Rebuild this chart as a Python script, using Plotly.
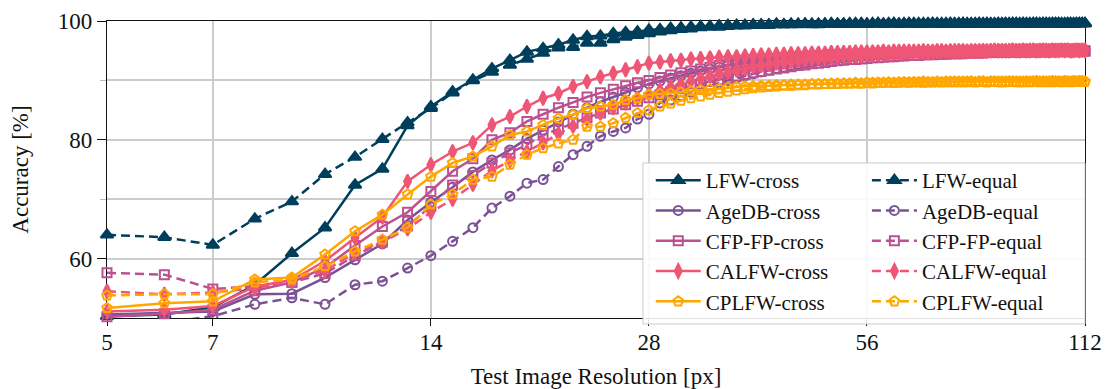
import plotly.graph_objects as go

RES = [5, 6, 7, 8, 9, 10, 11, 12, 13, 14, 15, 16, 17, 18, 19, 20, 21, 22, 23, 24, 25, 26, 27, 28,
       29, 30, 31, 32, 33, 34, 35, 36, 37, 38, 39, 40,
       41, 42, 43, 44, 45, 46, 47, 48, 49, 50, 51, 52, 53, 54, 55, 56, 57, 58, 59, 60,
       61, 62, 63, 64, 65, 66, 67, 68, 69, 70, 71, 72, 73, 74, 75, 76, 77, 78, 79, 80,
       81, 82, 83, 84, 85, 86, 87, 88, 89, 90, 91, 92, 93, 94, 95, 96, 97, 98, 99, 100,
       101, 102, 103, 104, 105, 106, 107, 108, 109, 110, 111, 112]

LFW_CROSS = [50.3, 50.6, 51.8, 55.6, 60.9, 65.2, 72.4, 75.1, 82.4, 85.6, 88.1, 90.1, 92.0, 93.4, 94.8, 95.4, 96.0, 96.8, 97.4, 97.5, 97.9, 98.1, 98.2, 98.5,
             98.6, 98.8, 98.9, 99.0, 99.1, 99.1, 99.2, 99.3, 99.3, 99.3, 99.4, 99.4,
             99.4, 99.5, 99.4, 99.5, 99.5, 99.5, 99.4, 99.5, 99.5, 99.6,
             99.5, 99.5, 99.6, 99.5, 99.6, 99.5, 99.6, 99.6, 99.5, 99.6,
             99.6, 99.5, 99.6, 99.6, 99.6, 99.5, 99.6, 99.6, 99.6, 99.6,
             99.5, 99.6, 99.6, 99.6, 99.6, 99.6, 99.5, 99.6, 99.6, 99.6,
             99.6, 99.6, 99.6, 99.5, 99.6, 99.6, 99.6, 99.6, 99.6, 99.6,
             99.6, 99.6, 99.5, 99.6, 99.6, 99.6, 99.6, 99.6, 99.6, 99.6,
             99.6, 99.6, 99.6, 99.6, 99.5, 99.6, 99.6, 99.6, 99.6, 99.6,
             99.6, 99.6]
LFW_EQUAL = [64.0, 63.6, 62.3, 66.7, 69.6, 74.2, 77.1, 80.1, 82.9, 85.3, 87.9, 90.0, 91.4, 92.6, 93.6, 94.6, 95.5, 95.6, 96.3, 96.3, 96.9, 97.3, 97.6, 97.9,
             98.2, 98.4, 98.6, 98.7, 98.9, 99.0, 99.0, 99.1, 99.2, 99.2, 99.3, 99.3,
             99.3, 99.4, 99.4, 99.4, 99.4, 99.5, 99.5, 99.4, 99.5, 99.5,
             99.5, 99.5, 99.5, 99.6, 99.5, 99.5, 99.5, 99.6, 99.5, 99.5,
             99.6, 99.5, 99.5, 99.6, 99.5, 99.6, 99.5, 99.5, 99.6, 99.5,
             99.6, 99.5, 99.6, 99.5, 99.5, 99.6, 99.6, 99.5, 99.5, 99.6,
             99.5, 99.6, 99.5, 99.6, 99.6, 99.5, 99.6, 99.5, 99.6, 99.6,
             99.5, 99.6, 99.6, 99.5, 99.6, 99.6, 99.5, 99.6, 99.6, 99.5,
             99.6, 99.6, 99.6, 99.5, 99.6, 99.6, 99.6, 99.5, 99.6, 99.6,
             99.6, 99.6]
AGEDB_CROSS = [50.6, 50.9, 51.1, 54.0, 54.1, 56.8, 59.8, 62.5, 66.5, 69.5, 72.0, 74.6, 76.6, 78.3, 80.2, 81.6, 83.0, 84.3, 85.4, 86.4, 87.2, 88.0, 88.8, 89.4,
               89.9, 90.4, 90.8, 91.2, 91.6, 91.9, 92.2, 92.5, 92.7, 92.9, 93.1, 93.3,
               93.5, 93.6, 93.7, 93.8, 93.9, 94.0, 94.1, 94.1, 94.2, 94.3,
               94.3, 94.4, 94.4, 94.5, 94.5, 94.5, 94.6, 94.6, 94.6, 94.7,
               94.7, 94.7, 94.7, 94.8, 94.8, 94.8, 94.8, 94.8, 94.9, 94.8,
               94.9, 94.9, 94.9, 94.9, 95.0, 94.9, 94.9, 95.0, 95.0, 94.9,
               95.0, 95.0, 95.0, 95.0, 95.0, 95.1, 95.0, 95.0, 95.1, 95.0,
               95.1, 95.0, 95.1, 95.1, 95.0, 95.1, 95.1, 95.1, 95.0, 95.1,
               95.1, 95.1, 95.1, 95.1, 95.1, 95.0, 95.1, 95.1, 95.1, 95.1,
               95.1, 95.1]
AGEDB_EQUAL = [48.5, 49.2, 50.3, 52.3, 53.4, 52.3, 55.6, 56.2, 58.4, 60.5, 62.9, 65.2, 68.5, 70.5, 72.7, 73.3, 75.5, 77.5, 78.9, 80.6, 81.4, 82.0, 83.5, 84.3,
               86.2, 86.7, 87.4, 88.0, 88.6, 89.1, 89.6, 90.0, 90.4, 90.8, 91.1, 91.4,
               91.7, 92.0, 92.2, 92.5, 92.7, 92.9, 93.1, 93.3, 93.4, 93.6,
               93.7, 93.8, 93.9, 94.0, 94.1, 94.1, 94.2, 94.3, 94.3, 94.4,
               94.4, 94.5, 94.5, 94.5, 94.6, 94.6, 94.6, 94.7, 94.7, 94.7,
               94.7, 94.8, 94.8, 94.8, 94.8, 94.8, 94.9, 94.8, 94.9, 94.9,
               94.9, 94.9, 94.9, 94.9, 95.0, 94.9, 94.9, 95.0, 94.9, 95.0,
               95.0, 94.9, 95.0, 95.0, 95.0, 94.9, 95.0, 95.0, 95.0, 95.0,
               95.0, 95.0, 94.9, 95.0, 95.0, 95.0, 95.0, 95.0, 95.0, 95.1,
               95.0, 95.0]
CFPFP_CROSS = [50.2, 50.7, 51.4, 54.6, 56.0, 58.5, 62.2, 65.4, 67.8, 71.3, 74.7, 76.8, 80.0, 81.2, 83.1, 84.3, 85.4, 86.3, 87.2, 87.9, 88.5, 89.1, 89.6, 90.0,
               90.5, 90.9, 91.3, 91.6, 91.9, 92.2, 92.5, 92.7, 92.9, 93.1, 93.3, 93.5,
               93.6, 93.7, 93.8, 93.9, 94.0, 94.0, 94.1, 94.2, 94.2, 94.3,
               94.3, 94.4, 94.4, 94.4, 94.5, 94.5, 94.5, 94.6, 94.6, 94.6,
               94.6, 94.7, 94.7, 94.7, 94.7, 94.7, 94.8, 94.7, 94.8, 94.8,
               94.8, 94.8, 94.8, 94.9, 94.8, 94.9, 94.8, 94.9, 94.9, 94.9,
               94.9, 94.9, 94.9, 94.9, 94.9, 95.0, 94.9, 94.9, 95.0, 94.9,
               95.0, 94.9, 95.0, 95.0, 94.9, 95.0, 95.0, 95.0, 94.9, 95.0,
               95.0, 95.0, 95.0, 95.0, 95.0, 94.9, 95.0, 95.0, 95.0, 95.0,
               95.0, 95.0]
CFPFP_EQUAL = [57.6, 57.3, 54.9, 55.3, 56.0, 57.5, 60.5, 62.8, 65.5, 68.8, 72.4, 74.0, 76.1, 77.8, 79.2, 80.8, 81.8, 82.8, 83.7, 84.5, 85.2, 85.9, 86.5, 87.1,
               87.6, 88.1, 88.6, 89.0, 89.4, 89.8, 90.1, 90.4, 90.7, 91.0, 91.3, 91.5,
               91.7, 91.9, 92.1, 92.3, 92.5, 92.6, 92.8, 92.9, 93.0, 93.2,
               93.3, 93.4, 93.5, 93.5, 93.6, 93.7, 93.8, 93.8, 93.9, 94.0,
               94.0, 94.1, 94.1, 94.2, 94.2, 94.2, 94.3, 94.3, 94.3, 94.4,
               94.4, 94.4, 94.5, 94.5, 94.5, 94.5, 94.6, 94.6, 94.6, 94.6,
               94.6, 94.7, 94.7, 94.7, 94.7, 94.7, 94.8, 94.7, 94.8, 94.8,
               94.8, 94.8, 94.8, 94.8, 94.9, 94.8, 94.8, 94.9, 94.9, 94.8,
               94.9, 94.9, 94.9, 94.9, 94.9, 94.9, 94.9, 95.0, 94.9, 94.9,
               95.0, 94.9]
CALFW_CROSS = [51.1, 51.4, 52.0, 55.3, 56.4, 59.6, 63.5, 67.0, 73.0, 75.8, 78.0, 79.5, 82.5, 83.9, 85.6, 87.0, 87.8, 89.0, 89.8, 90.6, 91.2, 91.8, 92.3, 92.9,
               93.1, 93.3, 93.4, 93.6, 93.7, 93.8, 93.9, 94.0, 94.0, 94.1, 94.2, 94.3,
               94.3, 94.4, 94.4, 94.5, 94.5, 94.5, 94.6, 94.6, 94.6, 94.7,
               94.7, 94.7, 94.7, 94.8, 94.8, 94.8, 94.8, 94.8, 94.9, 94.8,
               94.9, 94.9, 94.9, 94.9, 94.9, 94.9, 95.0, 94.9, 94.9, 95.0,
               95.0, 94.9, 95.0, 95.0, 95.0, 95.0, 94.9, 95.0, 95.0, 95.0,
               95.0, 95.0, 95.0, 95.1, 95.0, 95.0, 95.0, 95.0, 95.1, 95.0,
               95.0, 95.1, 95.0, 95.0, 95.1, 95.0, 95.0, 95.1, 95.0, 95.0,
               95.1, 95.0, 95.0, 95.1, 95.0, 95.1, 95.0, 95.0, 95.1, 95.0,
               95.1, 95.0]
CALFW_EQUAL = [54.5, 54.0, 54.3, 55.0, 56.2, 58.0, 61.0, 62.8, 65.0, 67.8, 70.0, 72.5, 74.8, 76.5, 78.0, 79.5, 81.0, 82.3, 83.5, 84.5, 85.4, 86.2, 87.0, 87.7,
               88.3, 88.9, 89.4, 89.9, 90.3, 90.7, 91.1, 91.4, 91.7, 92.0, 92.3, 92.5,
               92.7, 92.9, 93.1, 93.2, 93.4, 93.5, 93.6, 93.7, 93.8, 93.9,
               94.0, 94.0, 94.1, 94.2, 94.2, 94.3, 94.3, 94.4, 94.4, 94.5,
               94.5, 94.5, 94.6, 94.6, 94.6, 94.7, 94.7, 94.7, 94.7, 94.8,
               94.8, 94.8, 94.8, 94.8, 94.9, 94.9, 94.9, 94.9, 94.9, 94.9,
               95.0, 94.9, 95.0, 95.0, 95.0, 95.0, 95.0, 95.0, 95.1, 95.0,
               95.0, 95.1, 95.0, 95.1, 95.1, 95.0, 95.1, 95.1, 95.1, 95.0,
               95.1, 95.1, 95.1, 95.1, 95.1, 95.1, 95.0, 95.1, 95.1, 95.1,
               95.1, 95.1]
CPLFW_CROSS = [51.7, 52.5, 52.8, 56.5, 56.8, 60.7, 64.6, 67.4, 70.8, 73.8, 76.1, 77.2, 78.9, 80.8, 81.4, 82.5, 83.6, 84.2, 85.3, 85.6, 85.9, 86.7, 87.0, 87.6,
               87.7, 87.8, 88.0, 88.2, 88.4, 88.5, 88.6, 88.8, 88.9, 89.0, 89.0, 89.1,
               89.1, 89.2, 89.2, 89.3, 89.3, 89.3, 89.4, 89.4, 89.4, 89.5,
               89.5, 89.5, 89.5, 89.6, 89.5, 89.6, 89.6, 89.6, 89.6, 89.7,
               89.6, 89.7, 89.7, 89.7, 89.7, 89.7, 89.8, 89.7, 89.7, 89.8,
               89.7, 89.8, 89.7, 89.8, 89.8, 89.7, 89.8, 89.8, 89.7, 89.8,
               89.8, 89.7, 89.8, 89.8, 89.7, 89.8, 89.7, 89.8, 89.8, 89.7,
               89.8, 89.7, 89.8, 89.7, 89.8, 89.8, 89.7, 89.8, 89.7, 89.8,
               89.7, 89.8, 89.8, 89.7, 89.8, 89.8, 89.7, 89.8, 89.8, 89.9,
               89.8, 89.8]
CPLFW_EQUAL = [53.8, 54.0, 54.0, 56.0, 56.5, 58.7, 61.2, 63.2, 65.2, 69.1, 70.8, 73.3, 73.8, 75.8, 77.5, 78.6, 79.4, 80.0, 82.2, 82.2, 82.8, 83.7, 84.5, 85.0,
               85.6, 86.1, 86.6, 87.0, 87.3, 87.6, 87.9, 88.1, 88.3, 88.5, 88.7, 88.8,
               88.9, 89.0, 89.1, 89.1, 89.2, 89.2, 89.3, 89.3, 89.4, 89.4,
               89.4, 89.5, 89.5, 89.5, 89.5, 89.6, 89.5, 89.6, 89.6, 89.6,
               89.6, 89.6, 89.7, 89.6, 89.7, 89.7, 89.6, 89.7, 89.7, 89.7,
               89.7, 89.7, 89.8, 89.7, 89.7, 89.8, 89.7, 89.8, 89.7, 89.8,
               89.8, 89.7, 89.8, 89.8, 89.8, 89.7, 89.8, 89.8, 89.8, 89.8,
               89.7, 89.8, 89.8, 89.8, 89.8, 89.9, 89.8, 89.8, 89.8, 89.8,
               89.9, 89.8, 89.8, 89.8, 89.9, 89.8, 89.8, 89.9, 89.8, 89.8,
               89.9, 89.8]

X_TICKS = [5, 7, 14, 28, 56, 112]
X_TICK_TEXT = ["5", "7", "14", "28", "56", "112"]

FONT = "Liberation Serif"
FS = 23
LFS = 21
TXT = "#111111"

series = [
    ("LFW-cross", LFW_CROSS, "#003f5c", "triangle-up", "solid", "legend", 11),
    ("LFW-equal", LFW_EQUAL, "#003f5c", "triangle-up", "dash", "legend2", 11),
    ("AgeDB-cross", AGEDB_CROSS, "#7a5195", "circle-open", "solid", "legend", 9),
    ("AgeDB-equal", AGEDB_EQUAL, "#7a5195", "circle-open", "dash", "legend2", 9),
    ("CFP-FP-cross", CFPFP_CROSS, "#bc5090", "square-open", "solid", "legend", 9),
    ("CFP-FP-equal", CFPFP_EQUAL, "#bc5090", "square-open", "dash", "legend2", 9),
    ("CALFW-cross", CALFW_CROSS, "#ef5675", "diamond-tall", "solid", "legend", 10),
    ("CALFW-equal", CALFW_EQUAL, "#ef5675", "diamond-tall", "dash", "legend2", 10),
    ("CPLFW-cross", CPLFW_CROSS, "#ffa600", "pentagon-open", "solid", "legend", 10),
    ("CPLFW-equal", CPLFW_EQUAL, "#ffa600", "pentagon-open", "dash", "legend2", 10),
]

fig = go.Figure()
for name, vals, col, sym, dash, leg, msize in series:
    fig.add_trace(go.Scatter(
        x=RES, y=vals, name=name, mode="lines+markers",
        line=dict(color=col, width=2.5, dash=("solid" if dash == "solid" else "9px,5px")),
        marker=dict(symbol=sym, size=msize, color=col, line=dict(color=col, width=2)),
        legend=leg,
        cliponaxis=(name == "AgeDB-equal"),
    ))

fig.add_shape(type="rect", xref="paper", yref="paper",
              x0=0.548, x1=1.0, y0=-0.02, y1=0.522,
              fillcolor="rgba(255,255,255,0.88)", line=dict(color="#cccccc", width=1),
              layer="above")

legend_common = dict(
    bgcolor="rgba(0,0,0,0)", borderwidth=0,
    font=dict(family=FONT, size=LFS, color=TXT),
    xanchor="left", yanchor="top", itemwidth=45, tracegroupgap=0,
)

fig.update_layout(
    width=1102, height=381,
    margin=dict(l=99, r=25, t=13, b=71, autoexpand=False),
    paper_bgcolor="white", plot_bgcolor="white",
    font=dict(family=FONT, size=FS, color=TXT),
    legend=dict(x=0.556, y=0.532, **legend_common),
    legend2=dict(x=0.777, y=0.532, **legend_common),
    xaxis=dict(
        type="log", range=[0.69897, 2.04922],
        tickvals=X_TICKS, ticktext=X_TICK_TEXT,
        tickfont=dict(family=FONT, size=FS, color=TXT),
        showgrid=True, gridcolor="#cccccc", gridwidth=1.5,
        showline=True, linecolor="#111", linewidth=1.3, mirror=True,
        ticks="outside", ticklen=7, tickcolor="#111", tickwidth=1.3,
        ticklabelstandoff=-4,
        title=dict(text="Test Image Resolution [px]", standoff=14,
                   font=dict(family=FONT, size=FS, color=TXT)),
        zeroline=False, layer="below traces", automargin=False,
    ),
    yaxis=dict(
        range=[50, 100], tick0=0, dtick=20,
        tickfont=dict(family=FONT, size=FS, color=TXT),
        showgrid=True, gridcolor="#cccccc", gridwidth=1.5,
        minor=dict(dtick=10, tick0=0, showgrid=True, gridcolor="#cccccc", gridwidth=1.5,
                   ticks="outside", ticklen=6, tickcolor="#bbbbbb"),
        showline=True, linecolor="#111", linewidth=1.3, mirror=True,
        ticks="outside", ticklen=9, tickcolor="#111", tickwidth=1.3,
        title=dict(text="Accuracy [%]", standoff=22,
                   font=dict(family=FONT, size=FS, color=TXT)),
        zeroline=False, layer="below traces", automargin=False,
    ),
)

fig.write_html("out.html")
